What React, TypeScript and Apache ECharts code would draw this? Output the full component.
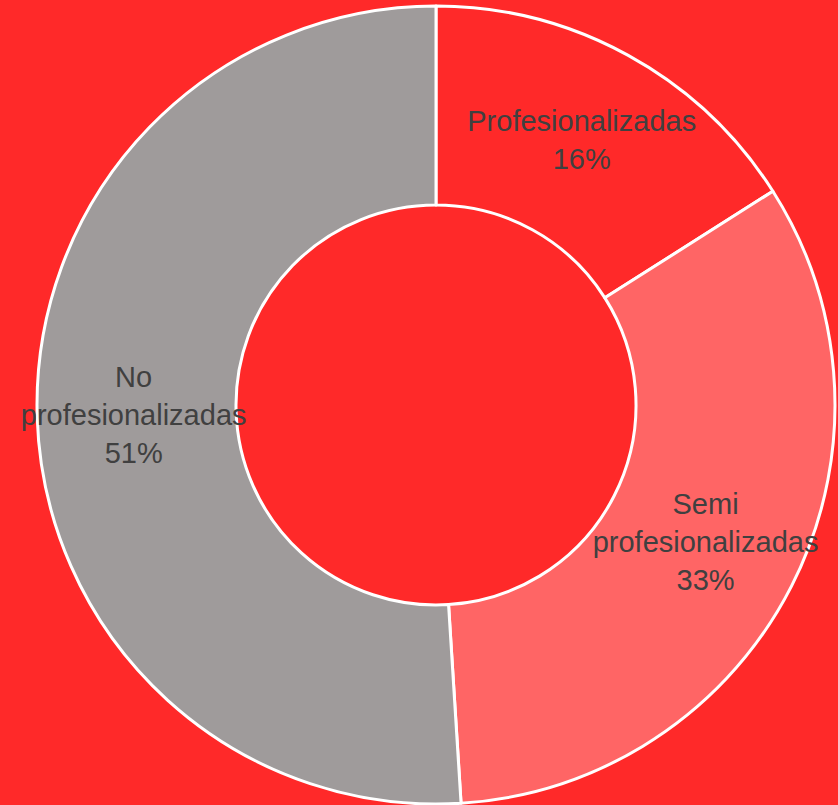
import React, { useEffect, useRef } from "react";
import * as echarts from "echarts";

const categories = ["Profesionalizadas", "Semi profesionalizadas", "No profesionalizadas"];
const values = [16, 33, 51];
const colors = ["#FF2929", "#FF6565", "#9F9B9B"];

export default function App() {
  const ref = useRef<HTMLDivElement>(null);
  useEffect(() => {
    document.body.style.margin = "0";
    const chart = echarts.init(ref.current!, null, { renderer: "svg" });
    chart.setOption({
      animation: false,
      backgroundColor: "#FF2929",
      series: [
        {
          type: "pie",
          center: [436, 405],
          radius: [200, 399],
          startAngle: 90,
          clockwise: true,
          avoidLabelOverlap: false,
          itemStyle: { borderColor: "#FFFFFF", borderWidth: 3 },
          label: {
            show: true,
            position: "inside",
            color: "#404040",
            fontFamily: "Liberation Sans",
            fontSize: 29,
            lineHeight: 38,
            align: "center",
            formatter: (p: any) => `${p.name.replace(" ", "\n")}\n${p.value}%`,
          },
          labelLine: { show: false },
          emphasis: { disabled: true },
          data: categories.map((c, i) => ({
            name: c,
            value: values[i],
            itemStyle: { color: colors[i] },
          })),
        },
      ],
    });
    return () => chart.dispose();
  }, []);
  return <div ref={ref} style={{ width: 838, height: 805 }} />;
}
